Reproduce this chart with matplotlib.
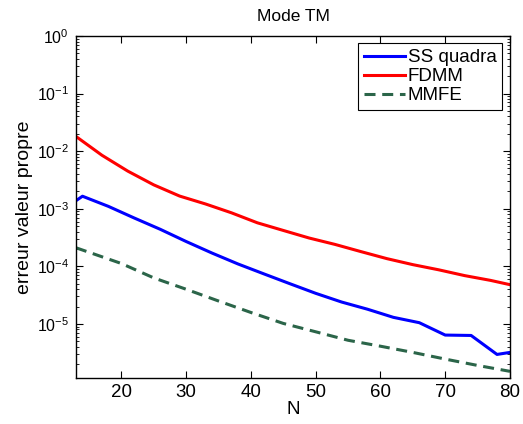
# erreur sur la valeur propre, mode TM
import matplotlib
matplotlib.use('Agg')
import matplotlib.pyplot as plt
from matplotlib.ticker import LogLocator, NullFormatter

plt.rcParams['font.family'] = ['Liberation Sans', 'DejaVu Sans']
plt.rcParams['mathtext.fontset'] = 'custom'
plt.rcParams['mathtext.rm'] = 'Liberation Sans'
plt.rcParams['mathtext.it'] = 'Liberation Sans'

# data
N_ss = [13, 14, 18, 22, 26, 30, 34, 38, 42, 46, 50, 54, 58, 62, 66, 70, 74, 78, 80]
err_ss = [1.38e-3, 1.65e-3, 1.1e-3, 6.9e-4, 4.4e-4, 2.7e-4, 1.7e-4, 1.1e-4, 7.4e-5,
          5.0e-5, 3.4e-5, 2.4e-5, 1.8e-5, 1.3e-5, 1.05e-5, 6.4e-6, 6.3e-6, 2.95e-6, 3.2e-6]

N_fdmm = [13, 17, 21, 25, 29, 33, 37, 41, 45, 49, 53, 57, 61, 65, 69, 73, 77, 80]
err_fdmm = [1.8e-2, 8.5e-3, 4.5e-3, 2.6e-3, 1.66e-3, 1.21e-3, 8.5e-4, 5.7e-4, 4.2e-4,
            3.1e-4, 2.4e-4, 1.8e-4, 1.36e-4, 1.07e-4, 8.7e-5, 6.9e-5, 5.7e-5, 4.8e-5]

N_mmfe = [13, 20, 25, 30, 35, 40, 45, 50, 55, 60, 65, 70, 75, 80]
err_mmfe = [2.1e-4, 1.12e-4, 6.3e-5, 4.0e-5, 2.5e-5, 1.58e-5, 1.02e-5, 7.3e-6,
            5.2e-6, 4.1e-6, 3.2e-6, 2.45e-6, 1.9e-6, 1.5e-6]

labels = ['SS quadra', 'FDMM', 'MMFE']

fig = plt.figure(figsize=(5.23, 4.24), dpi=100)
ax = fig.add_axes([0.1453, 0.1085, 0.8298, 0.8066])

ax.semilogy(N_ss, err_ss, '-', color='#0000ff', lw=2.2, label=labels[0])
ax.semilogy(N_fdmm, err_fdmm, '-', color='#ff0000', lw=2.2, label=labels[1])
ax.semilogy(N_mmfe, err_mmfe, '--', color='#2b6549', lw=2.2, dashes=(3.6, 2.2), label=labels[2])

ax.set_xlim(13, 80)
ax.set_ylim(1.15e-6, 1)
ax.set_xticks([20, 30, 40, 50, 60, 70, 80])
ax.set_yticks([1e0, 1e-1, 1e-2, 1e-3, 1e-4, 1e-5])
ax.yaxis.set_minor_locator(LogLocator(base=10, subs=range(2, 10), numticks=20))
ax.yaxis.set_minor_formatter(NullFormatter())

ax.tick_params(which='both', direction='in', top=True, right=True)
ax.tick_params(axis='x', labelsize=13.5, pad=4)
ax.tick_params(axis='y', labelsize=11.5, pad=5)
ax.tick_params(which='major', length=5, width=0.8)
ax.tick_params(which='minor', length=2.5, width=0.6)
for s in ax.spines.values():
    s.set_linewidth(1.0)

ax.set_title('Mode TM', fontsize=12.5, pad=11)
ax.set_xlabel('N', fontsize=13.5, labelpad=0)
ax.set_ylabel('erreur valeur propre', fontsize=14, labelpad=3)

leg = ax.legend(loc='upper right', fontsize=13.5, fancybox=False, framealpha=1,
                edgecolor='black', handlelength=2.2, handletextpad=0.15,
                borderaxespad=0.4, borderpad=0.3, labelspacing=0.1)
leg.get_frame().set_linewidth(0.8)

plt.savefig('out.png', dpi=100)
